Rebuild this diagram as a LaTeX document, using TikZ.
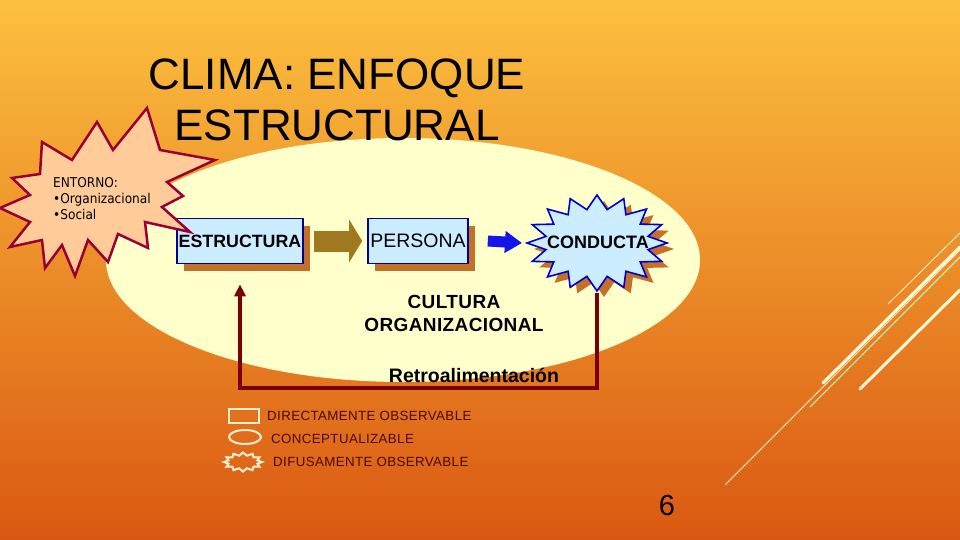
\documentclass[tikz,border=0pt]{standalone}
\usepackage{fontspec}
\setmainfont{Liberation Sans}
\newfontfamily\tahoma{DejaVu Sans Condensed}
\usetikzlibrary{arrows.meta,shapes.geometric,shadows,calc}

\definecolor{bgtop}{RGB}{252,192,62}
\definecolor{bgmid}{RGB}{236,140,38}
\definecolor{bgbot}{RGB}{218,88,18}
\definecolor{cream}{RGB}{255,255,204}
\definecolor{peach}{RGB}{255,204,153}
\definecolor{burst}{RGB}{153,0,51}
\definecolor{boxfill}{RGB}{204,236,255}
\definecolor{boxline}{RGB}{0,0,153}
\definecolor{shadowc}{RGB}{196,112,40}
\definecolor{olive}{RGB}{160,120,30}
\definecolor{blueA}{RGB}{20,20,235}
\definecolor{starline}{RGB}{0,0,204}
\definecolor{fb}{RGB}{120,0,0}
\definecolor{legtext}{RGB}{70,10,0}
\definecolor{legline}{RGB}{255,240,210}
\definecolor{deco}{RGB}{255,250,215}

\tikzset{
  boxnode/.style={draw=boxline, line width=1.6pt, fill=boxfill, minimum height=45pt,
    inner sep=0pt, text=black,
    drop shadow={shadow xshift=7pt, shadow yshift=-7pt, fill=shadowc, opacity=1}},
  fatarrow/.style={draw=olive, line width=21pt, -{Triangle[length=13pt,width=42pt]}},
  bluearrow/.style={draw=blueA, line width=11pt, -{Triangle[length=17pt,width=21pt]}},
  fbarrow/.style={draw=fb, line width=4pt, -{Triangle[length=12pt,width=11pt]}},
  legtxt/.style={anchor=west, inner sep=0pt, text=legtext,
    font=\fontsize{13.3}{15}\selectfont\addfontfeature{LetterSpace=3}},
  titletxt/.style={anchor=base, inner sep=0pt, font=\fontsize{44}{50}\selectfont},
  decothin/.style={draw=deco, line width=0.8pt},
  decothick/.style={draw=deco, line width=3pt, line cap=round},
}

\begin{document}
\begin{tikzpicture}[x=1pt,y=-1pt]
\useasboundingbox (0,0) rectangle (960,540);
% background
\shade[top color=bgtop, middle color=bgmid, bottom color=bgbot] (0,0) rectangle (960,540);

% decorative lines
\draw[decothin] (725,485) -- (960,250);
\draw[decothin] (810,407) -- (960,257);
\draw[decothin] (888,304) -- (960,233);
\draw[decothick] (823,383) -- (960,247);
\draw[decothick] (860,389) -- (960,290);

% big ellipse
\fill[cream] (403,260) ellipse [x radius=297pt, y radius=122pt];

% title
\node[titletxt] (t1) at (337,90) {CLIMA: ENFOQUE};
\node[titletxt] (t2) at (337,141) {ESTRUCTURAL};

% boxes
\node[boxnode, minimum width=126pt, font=\fontsize{17.8}{20}\selectfont\bfseries]
  (estr) at (240,241) {ESTRUCTURA};
\node[boxnode, minimum width=100pt, font=\fontsize{19.5}{22}\selectfont]
  (pers) at (418,241) {PERSONA};

% CONDUCTA starburst
\begin{scope}[shift={(604,249)}]
  \fill[shadowc] plot[samples at={0,...,31}, variable=\k]
    ({(iseven(\k)?70:52)*cos(\k*11.25)}, {(iseven(\k)?48:34)*sin(\k*11.25)}) -- cycle;
\end{scope}
\begin{scope}[shift={(597,243)}]
  \filldraw[fill=boxfill, draw=starline, line width=1.6pt, line join=miter]
    plot[samples at={0,...,31}, variable=\k]
    ({(iseven(\k)?70:52)*cos(\k*11.25)}, {(iseven(\k)?48:34)*sin(\k*11.25)}) -- cycle;
\end{scope}
\node[inner sep=0pt, font=\fontsize{18}{20}\selectfont\bfseries] (cond) at (598,242) {CONDUCTA};
\coordinate (condL) at (527,243);
\coordinate (fbstart) at (597,293);

% arrows between nodes
\draw[fatarrow] ([xshift=10pt]estr.east) -- ([xshift=-5pt]pers.west);
\draw[bluearrow] ([xshift=19pt]pers.east) -- ([xshift=-5pt]condL);

% feedback
\draw[fbarrow, shorten >=20pt] (fbstart) -- (597,388) -| (estr.south);

\node[align=center, inner sep=0pt, font=\fontsize{19}{23}\selectfont\bfseries\addfontfeature{LetterSpace=2}]
  (cult) at (454,313) {CULTURA\\ORGANIZACIONAL};
\node[inner sep=0pt, font=\fontsize{19.5}{22}\selectfont\bfseries] (retro) at (474,375) {Retroalimentación};

% ENTORNO starburst
\filldraw[fill=peach, draw=burst, line width=2.5pt, line join=miter]
  (147,108) -- (160,150) -- (215,160) -- (167,182) -- (183,196) -- (162,207) --
  (190,232) -- (145,222) -- (148,248) -- (118,234) -- (108,262) -- (88,240) --
  (75,276) -- (62,245) -- (45,268) -- (42,240) -- (10,247) -- (30,222) --
  (0,208) -- (30,195) -- (12,178) -- (40,174) -- (42,142) -- (72,160) --
  (97,122) -- (113,150) -- cycle;
\node[anchor=north west, align=left, inner sep=0pt,
  font=\tahoma\fontsize{13.5}{16}\selectfont] (ent) at (53,177)
  {ENTORNO:\\•Organizacional\\•Social};

% legend
\node[draw=legline, line width=1.2pt, minimum width=30pt, minimum height=14pt, inner sep=0pt]
  (lg1) at (244,416) {};
\node[legtxt] (lt1) at (267,416) {DIRECTAMENTE OBSERVABLE};
\node[ellipse, draw=legline, line width=2pt, minimum width=32pt, minimum height=14pt, inner sep=0pt]
  (lg2) at (245,437) {};
\node[legtxt] (lt2) at (271,439) {CONCEPTUALIZABLE};
\begin{scope}[shift={(243,462)}]
  \draw[draw=legline, line width=2pt] plot[samples at={0,...,23}, variable=\k]
    ({(iseven(\k)?19:15)*cos(\k*15)}, {(iseven(\k)?9.5:6.5)*sin(\k*15)}) -- cycle;
\end{scope}
\coordinate (lg3) at (243,462);
\node[legtxt] (lt3) at (273,462) {DIFUSAMENTE OBSERVABLE};

% page number
\node[inner sep=0pt, font=\fontsize{29}{32}\selectfont] (num) at (667,506) {6};
\end{tikzpicture}
\end{document}
